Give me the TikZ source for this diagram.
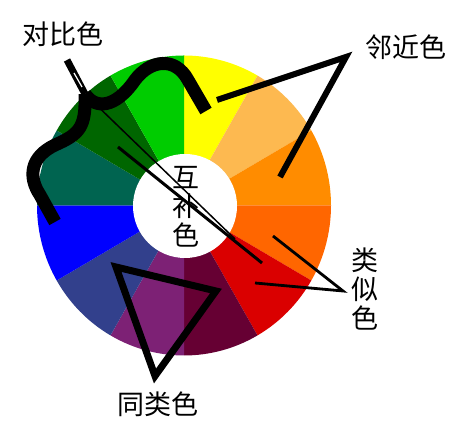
\documentclass[tikz,border=0pt]{standalone}
\usepackage{fontspec}
\newfontfamily\cjk{Noto Sans CJK SC}
\definecolor{cYellow}{RGB}{255,255,0}
\definecolor{cLtOrange}{RGB}{253,185,80}
\definecolor{cOrange}{RGB}{255,140,0}
\definecolor{cOrRed}{RGB}{255,102,0}
\definecolor{cRed}{RGB}{218,0,0}
\definecolor{cMaroon}{RGB}{102,0,51}
\definecolor{cPurple}{RGB}{125,33,117}
\definecolor{cSlate}{RGB}{50,64,140}
\definecolor{cBlue}{RGB}{0,0,255}
\definecolor{cTeal}{RGB}{0,100,80}
\definecolor{cDkGreen}{RGB}{0,102,0}
\definecolor{cGreen}{RGB}{0,204,0}
\begin{document}
\begin{tikzpicture}[x=1pt,y=1pt,
  lbl/.style={font=\cjk\fontsize{27}{29}\selectfont, inner sep=0pt, align=center},
  brace/.style={line width=13, line join=round},
  pointer/.style={line width=6, line join=miter},
  thinline/.style={line width=1.5},
  midline/.style={line width=3}]
\useasboundingbox (0,0) rectangle (460,427);
\fill[white] (0,0) rectangle (460,427);
% colour wheel
\coordinate (C) at (184,221.5);
\foreach \a/\c in {60/cYellow, 30/cLtOrange, 0/cOrange, -30/cOrRed, -60/cRed,
  -90/cMaroon, -120/cPurple, -150/cSlate, -180/cBlue, 150/cTeal, 120/cDkGreen, 90/cGreen}
  \fill[\c] (C) -- ++(\a:147 and 150) arc[start angle=\a, end angle=\a+30, x radius=147, y radius=150] -- cycle;
\fill[white] (185,221) circle (52);
% labels
\node[lbl] (hb) at (186,220) {互\\补\\色};
\node[lbl] (db) at (63,393) {对比色};
\node[lbl] (lj) at (406,380) {邻近色};
\node[lbl] (ls) at (365,138) {类\\似\\色};
\node[lbl] (tl) at (158,23) {同类色};
% anchor points
\coordinate (dbTip) at (67,367);
\coordinate (dbJ) at (85,333);
\coordinate (dbR) at (206,316);
\coordinate (dbL) at (55,205);
\coordinate (hbA) at (235,188);
\coordinate (hbB1) at (118,280);
\coordinate (hbB2) at (262,164);
\coordinate (ljA) at (217,327);
\coordinate (ljP) at (346,370);
\coordinate (ljB) at (280,250);
\coordinate (lsA) at (273,191);
\coordinate (lsP) at (343,136);
\coordinate (lsB) at (255,144);
\coordinate (tlA) at (116,160);
\coordinate (tlB) at (216,136);
\coordinate (tlC) at (155,51);
% contrast brace
\draw[line width=7] (dbTip) -- (dbJ);
\draw[white, line width=1.2] (74,354) -- (82,340);
\draw[brace] (dbJ) .. controls (95,318) and (115,318) .. (135,347)
  .. controls (150,367) and (175,371) .. (188,347) -- (dbR);
\draw[brace] (dbJ) .. controls (86,300) and (80,293) .. (55,282)
  .. controls (30,270) and (28,250) .. (40,232) -- (dbL);
% complementary lines
\draw[thinline] (dbJ) -- (hbA);
\draw[midline] (hbB1) -- (hbB2);
% adjacent pointer
\draw[pointer] (ljA) -- (ljP) -- (ljB);
% analogous pointer
\draw[line width=2.8] (lsA) -- (lsP) -- (lsB);
% same-hue triangle
\draw[line width=7, line join=miter] (tlA) -- (tlB) -- (tlC) -- cycle;
\end{tikzpicture}
\end{document}
